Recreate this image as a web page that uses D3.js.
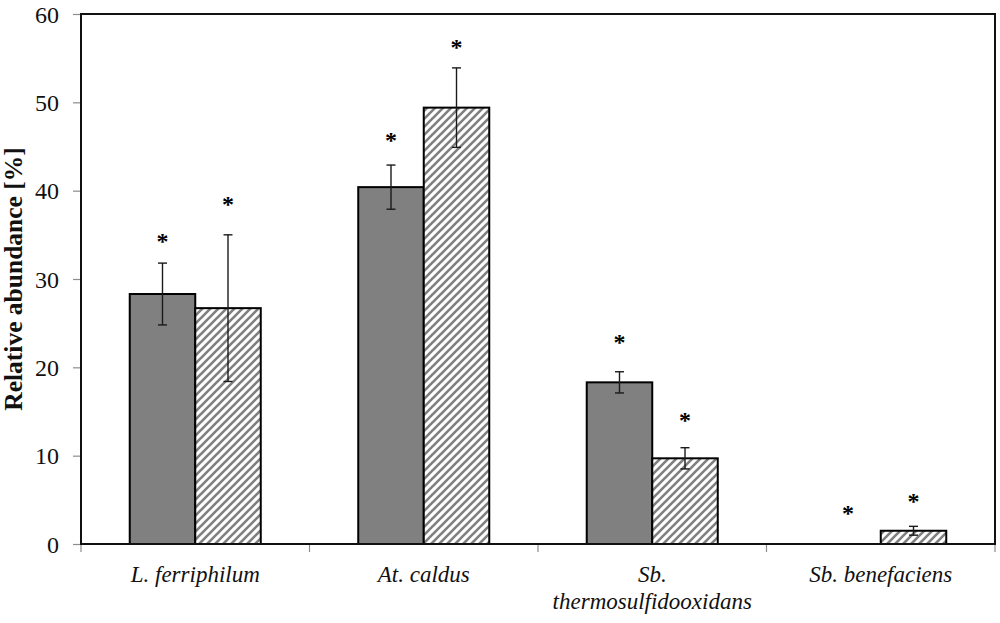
<!DOCTYPE html>
<html>
<head>
<meta charset="utf-8">
<script src="https://cdn.jsdelivr.net/npm/d3@7"></script>
<style>
  body { margin: 0; background: #fff; }
  svg { display: block; }
</style>
</head>
<body>
<script>
// chart values
var categories = ["L. ferriphilum", "At. caldus", "Sb. thermosulfidooxidans", "Sb. benefaciens"];
var catLines = [["L. ferriphilum"], ["At. caldus"], ["Sb.", "thermosulfidooxidans"], ["Sb. benefaciens"]];
var series = ["solid", "hatched"];
var solidVals = [28.3, 40.4, 18.3, 0];
var solidErr = [3.5, 2.5, 1.2, 0];
var hatchVals = [26.7, 49.4, 9.7, 1.5];
var hatchErr = [8.3, 4.5, 1.2, 0.5];
var solidStar = [34.6, 46.0, 23.2, 3.85]; // where the asterisks sit (in %)
var hatchStar = [38.8, 56.6, 14.4, 5.2];
var yTicks = [0, 10, 20, 30, 40, 50, 60];

var WIDTH = 1000, HEIGHT = 623;
var FONT = "'Liberation Serif', 'Times New Roman', serif";
var margin = {top: 14, right: 5, bottom: 79, left: 81};
var w = WIDTH - margin.left - margin.right;
var h = HEIGHT - margin.top - margin.bottom;

var svg = d3.select("body").append("svg")
    .attr("width", WIDTH)
    .attr("height", HEIGHT)
    .style("font-family", FONT);

// diagonal hatch like the excel pattern
var pat = svg.append("defs").append("pattern")
    .attr("id", "hatch")
    .attr("patternUnits", "userSpaceOnUse")
    .attr("width", 8).attr("height", 8);
pat.append("rect").attr("width", 8).attr("height", 8).attr("fill", "#fff");
pat.append("path")
    .attr("d", "M-2,2 L2,-2 M0,8 L8,0 M6,10 L10,6")
    .attr("stroke", "#808080")
    .attr("stroke-width", 2.6);

var g = svg.append("g").attr("transform", "translate(" + margin.left + "," + margin.top + ")");

var x = d3.scaleBand().domain(categories).range([0, w]).padding(0);
var xs = d3.scaleBand().domain(series).range([0, x.bandwidth()]).paddingInner(0).paddingOuter(0.744);
var y = d3.scaleLinear().domain([0, 60]).range([h, 0]);

// y axis ticks + labels
var yAxis = g.append("g")
    .call(d3.axisLeft(y).tickValues(yTicks).tickSize(8).tickPadding(14).tickFormat(d3.format("d")));
yAxis.select(".domain").remove();
yAxis.selectAll(".tick line").attr("stroke", "#8c8c8c").attr("stroke-width", 1.2);
yAxis.selectAll(".tick text")
    .attr("fill", "#111")
    .attr("dy", "0.34em")
    .style("font-size", "24px")
    .style("font-family", FONT);

// bottom ticks between categories
var bounds = categories.map(function(c) { return x(c); }).concat([w]);
g.selectAll(".xtick").data(bounds).enter().append("line")
    .attr("class", "xtick")
    .attr("x1", function(d) { return d; }).attr("x2", function(d) { return d; })
    .attr("y1", h).attr("y2", h + 8)
    .attr("stroke", "#8c8c8c").attr("stroke-width", 1.2);

// bars
var rows = categories.map(function(c, i) {
  return [
    {cat: c, s: "solid", v: solidVals[i], e: solidErr[i], star: solidStar[i]},
    {cat: c, s: "hatched", v: hatchVals[i], e: hatchErr[i], star: hatchStar[i]}
  ];
});
var flat = d3.merge(rows);

g.selectAll(".bar").data(flat.filter(function(d) { return d.v > 0; })).enter().append("rect")
    .attr("class", "bar")
    .attr("x", function(d) { return x(d.cat) + xs(d.s); })
    .attr("y", function(d) { return y(d.v); })
    .attr("width", xs.bandwidth())
    .attr("height", function(d) { return h - y(d.v); })
    .attr("fill", function(d) { return d.s === "solid" ? "#808080" : "url(#hatch)"; })
    .attr("stroke", "#000")
    .attr("stroke-width", 2);

// error bars
var eb = g.selectAll(".err").data(flat.filter(function(d) { return d.e > 0; })).enter().append("g")
    .attr("class", "err")
    .attr("transform", function(d) { return "translate(" + (x(d.cat) + xs(d.s) + xs.bandwidth() / 2) + ",0)"; })
    .attr("stroke", "#1a1a1a").attr("stroke-width", 1.4);
eb.append("line")
    .attr("y1", function(d) { return y(d.v + d.e); })
    .attr("y2", function(d) { return y(d.v - d.e); });
eb.append("line").attr("x1", -4.5).attr("x2", 4.5)
    .attr("y1", function(d) { return y(d.v + d.e); })
    .attr("y2", function(d) { return y(d.v + d.e); });
eb.append("line").attr("x1", -4.5).attr("x2", 4.5)
    .attr("y1", function(d) { return y(d.v - d.e); })
    .attr("y2", function(d) { return y(d.v - d.e); });

// significance asterisks
g.selectAll(".star").data(flat).enter().append("text")
    .attr("class", "star")
    .attr("x", function(d) { return x(d.cat) + xs(d.s) + xs.bandwidth() / 2; })
    .attr("y", function(d) { return y(d.star); })
    .attr("dy", "0.45em")
    .attr("text-anchor", "middle")
    .style("font-size", "24px")
    .style("font-weight", "bold")
    .text("*");

// frame
g.append("rect")
    .attr("width", w).attr("height", h)
    .attr("fill", "none")
    .attr("stroke", "#111")
    .attr("stroke-width", 2);

// category labels
var xl = g.selectAll(".xlab").data(categories).enter().append("text")
    .attr("class", "xlab")
    .attr("x", function(d) { return x(d) + x.bandwidth() / 2; })
    .attr("y", h + 38)
    .attr("text-anchor", "middle")
    .style("font-size", "23px")
    .style("font-style", "italic")
    .attr("fill", "#111");
xl.selectAll("tspan").data(function(d, i) { return catLines[i]; }).enter().append("tspan")
    .attr("x", function() { var p = d3.select(this.parentNode).datum(); return x(p) + x.bandwidth() / 2; })
    .attr("dy", function(d, i) { return i === 0 ? 0 : 27; })
    .text(function(d) { return d; });

// y title
svg.append("text")
    .attr("transform", "translate(22,279) rotate(-90)")
    .attr("text-anchor", "middle")
    .style("font-size", "25.5px")
    .style("font-weight", "bold")
    .attr("fill", "#111")
    .text("Relative abundance [%]");
</script>
</body>
</html>
